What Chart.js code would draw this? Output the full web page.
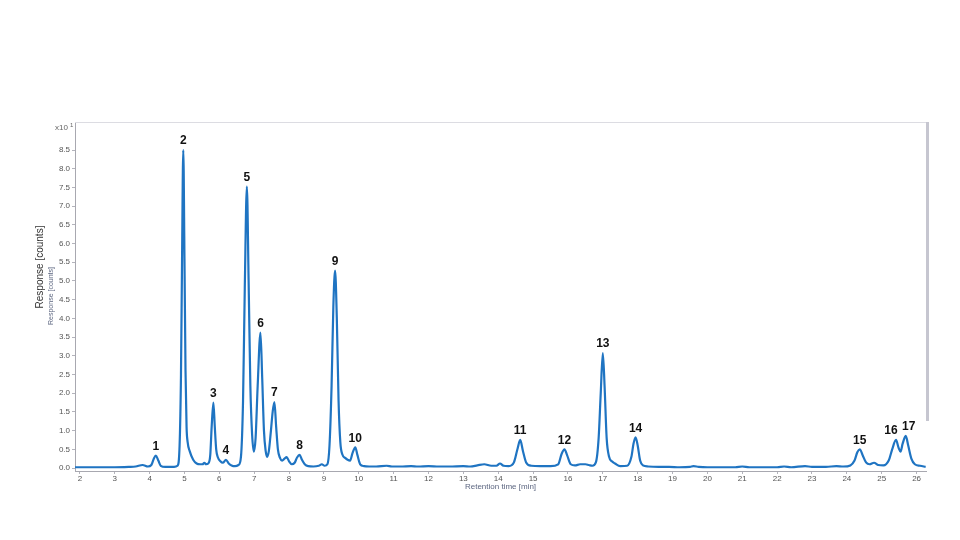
<!DOCTYPE html>
<html>
<head>
<meta charset="utf-8">
<title>Chromatogram</title>
<script src="https://cdn.jsdelivr.net/npm/chart.js@4/dist/chart.umd.min.js"></script>
<style>
  html, body { margin: 0; padding: 0; background: #fff; }
  canvas { display: block; }
</style>
</head>
<body>
<canvas id="chromChart" width="960" height="540"></canvas>
<script>
// trace (retention time in min, response in x10^1 counts)
const retentionTimes = [
  1.86, 2.5, 3.0, 3.4, 3.6, 3.8, 3.95, 4.05, 4.12, 4.18, 4.25, 4.32, 4.45, 4.6,
  4.70, 4.80, 4.86, 4.90, 4.93, 4.966, 5.00, 5.03, 5.06, 5.09, 5.15, 5.25, 5.35, 5.45,
  5.52, 5.57, 5.62, 5.68, 5.74, 5.78, 5.83, 5.87, 5.91, 5.96, 6.03, 6.10, 6.19, 6.27,
  6.35, 6.45, 6.55, 6.62, 6.68, 6.73, 6.79, 6.84, 6.89, 6.94, 6.99, 7.04, 7.10, 7.18,
  7.23, 7.28, 7.33, 7.37, 7.42, 7.48, 7.53, 7.58, 7.63, 7.68, 7.74, 7.80, 7.87, 7.93,
  8.00, 8.08, 8.16, 8.23, 8.30, 8.37, 8.45, 8.55, 8.70, 8.85, 8.94, 9.02, 9.10, 9.16,
  9.22, 9.27, 9.32, 9.37, 9.42, 9.47, 9.53, 9.61, 9.68, 9.75, 9.82, 9.90, 9.96, 10.04,
  10.15, 10.3, 10.5, 10.8, 10.95, 11.2, 11.5, 11.7, 12.0, 12.3, 12.6, 13.0, 13.2, 13.4,
  13.6, 13.8, 13.95, 14.05, 14.15, 14.3, 14.45, 14.55, 14.63, 14.71, 14.8, 14.95, 15.2,
  15.5, 15.72, 15.82, 15.9, 15.98, 16.08, 16.2, 16.35, 16.5, 16.6, 16.7, 16.8, 16.88,
  16.94, 17.0, 17.05, 17.11, 17.18, 17.26, 17.35, 17.5, 17.7, 17.82, 17.88, 17.94, 18.0,
  18.07, 18.15, 18.3, 18.6, 18.9, 19.2, 19.5, 19.6, 19.75, 20.0, 20.4, 20.8, 21.0, 21.2,
  21.6, 22.0, 22.2, 22.4, 22.8, 23.0, 23.4, 23.7, 23.9, 24.1, 24.22, 24.3, 24.37, 24.45,
  24.55, 24.65, 24.78, 24.9, 25.05, 25.2, 25.3, 25.41, 25.48, 25.54, 25.6, 25.69, 25.76,
  25.85, 25.95, 26.1, 26.26
];
const responses = [
  0.02, 0.02, 0.02, 0.03, 0.04, 0.08, 0.04, 0.08, 0.25, 0.33, 0.2, 0.06, 0.03, 0.03,
  0.03, 0.06, 0.6, 2.5, 5.5, 8.5, 5.6, 2.6, 1.1, 0.7, 0.45, 0.22, 0.12, 0.1,
  0.1, 0.14, 0.1, 0.12, 0.35, 1.1, 1.75, 1.1, 0.5, 0.28, 0.18, 0.14, 0.22, 0.12,
  0.07, 0.05, 0.08, 0.3, 1.8, 4.8, 7.52, 5.0, 2.2, 0.9, 0.44, 0.8, 2.2, 3.62,
  2.4, 1.0, 0.45, 0.3, 0.45, 1.0, 1.5, 1.76, 1.1, 0.5, 0.27, 0.2, 0.25, 0.29,
  0.18, 0.1, 0.14, 0.28, 0.35, 0.22, 0.1, 0.05, 0.04, 0.06, 0.1, 0.06, 0.1, 0.6,
  2.2, 4.3, 5.28, 4.0, 1.8, 0.7, 0.36, 0.27, 0.22, 0.2, 0.4, 0.55, 0.35, 0.1,
  0.05, 0.04, 0.04, 0.06, 0.04, 0.04, 0.05, 0.04, 0.05, 0.04, 0.04, 0.05, 0.04, 0.07,
  0.1, 0.06, 0.06, 0.12, 0.06, 0.05, 0.15, 0.5, 0.75, 0.45, 0.15, 0.06, 0.05,
  0.05, 0.1, 0.38, 0.5, 0.33, 0.1, 0.07, 0.1, 0.1, 0.08, 0.06, 0.15, 0.8,
  2.0, 3.07, 2.2, 0.8, 0.3, 0.18, 0.12, 0.05, 0.06, 0.3, 0.65, 0.82, 0.6,
  0.2, 0.07, 0.04, 0.03, 0.03, 0.02, 0.03, 0.05, 0.03, 0.02, 0.02, 0.02, 0.04, 0.02,
  0.02, 0.02, 0.04, 0.02, 0.05, 0.03, 0.03, 0.05, 0.04, 0.07, 0.2, 0.42, 0.5, 0.35,
  0.15, 0.1, 0.14, 0.08, 0.07, 0.2, 0.5, 0.75, 0.55, 0.44, 0.65, 0.86, 0.6,
  0.25, 0.1, 0.06, 0.03
];

// numbered peaks
const peakLabels = ["1", "2", "3", "4", "5", "6", "7", "8", "9", "10", "11", "12", "13", "14", "15", "16", "17"];
const peakTimes = [4.18, 4.966, 5.83, 6.19, 6.79, 7.18, 7.58, 8.30, 9.32, 9.90, 14.63, 15.9, 17.0, 17.94, 24.37, 25.41, 25.69];
const peakHeights = [0.33, 8.5, 1.75, 0.22, 7.52, 3.62, 1.76, 0.35, 5.28, 0.55, 0.75, 0.5, 3.07, 0.82, 0.5, 0.75, 0.86];

const xTicks = [2, 3, 4, 5, 6, 7, 8, 9, 10, 11, 12, 13, 14, 15, 16, 17, 18, 19, 20, 21, 22, 23, 24, 25, 26];
const yTicks = [0, 0.5, 1.0, 1.5, 2.0, 2.5, 3.0, 3.5, 4.0, 4.5, 5.0, 5.5, 6.0, 6.5, 7.0, 7.5, 8.0, 8.5];

const FONT = "'Liberation Sans', Arial, sans-serif";
const labelNudge = { "16": -5, "17": 3 };

const decorations = {
  id: "decorations",
  afterDraw(chart) {
    const { ctx, chartArea, scales } = chart;
    const x = scales.x, y = scales.y;
    ctx.save();

    // top border and right frame bar
    ctx.strokeStyle = "#dcdce2";
    ctx.lineWidth = 1;
    ctx.beginPath();
    ctx.moveTo(chartArea.left, chartArea.top + 0.5);
    ctx.lineTo(chartArea.right + 3, chartArea.top + 0.5);
    ctx.stroke();
    ctx.strokeStyle = "#c6c6d0";
    ctx.lineWidth = 3;
    ctx.beginPath();
    ctx.moveTo(chartArea.right + 1.5, chartArea.top);
    ctx.lineTo(chartArea.right + 1.5, 421);
    ctx.stroke();

    // peak numbers
    ctx.fillStyle = "#111";
    ctx.font = "bold 12px " + FONT;
    ctx.textAlign = "center";
    ctx.textBaseline = "bottom";
    peakLabels.forEach((lbl, i) => {
      const px = x.getPixelForValue(peakTimes[i]) + (labelNudge[lbl] || 0);
      const py = y.getPixelForValue(peakHeights[i]) - 3;
      ctx.fillText(lbl, px, py);
    });

    // exponent marker
    ctx.fillStyle = "#666";
    ctx.font = "8px " + FONT;
    ctx.textAlign = "right";
    ctx.textBaseline = "middle";
    ctx.fillText("x10", 68, chartArea.top + 6);
    ctx.font = "6px " + FONT;
    ctx.textAlign = "left";
    ctx.fillText("1", 70, chartArea.top + 3);

    // axis titles
    ctx.textAlign = "center";
    ctx.fillStyle = "#5c6680";
    ctx.font = "8px " + FONT;
    ctx.fillText("Retention time [min]", (chartArea.left + chartArea.right) / 2, 487);

    ctx.save();
    ctx.translate(40, 267);
    ctx.rotate(-Math.PI / 2);
    ctx.fillStyle = "#333";
    ctx.font = "10px " + FONT;
    ctx.fillText("Response [counts]", 0, 0);
    ctx.restore();

    ctx.save();
    ctx.translate(51, 296);
    ctx.rotate(-Math.PI / 2);
    ctx.fillStyle = "#5c6680";
    ctx.font = "7px " + FONT;
    ctx.fillText("Response [counts]", 0, 0);
    ctx.restore();

    ctx.restore();
  }
};

const ctx = document.getElementById("chromChart");

new Chart(ctx, {
  type: "line",
  data: {
    datasets: [{
      label: "Response",
      data: retentionTimes.map((t, i) => ({ x: t, y: responses[i] })),
      borderColor: "#1f74c2",
      borderWidth: 2.2,
      pointRadius: 0,
      tension: 0.4,
      cubicInterpolationMode: "monotone",
      fill: false
    }]
  },
  options: {
    responsive: false,
    animation: false,
    layout: { padding: { left: 0, top: 122, right: 34, bottom: 0 } },
    plugins: {
      legend: { display: false },
      tooltip: { enabled: false }
    },
    scales: {
      x: {
        type: "linear",
        min: 1.86,
        max: 26.27,
        afterBuildTicks: (scale) => { scale.ticks = xTicks.map(v => ({ value: v })); },
        afterFit: (scale) => { scale.height = 69; },
        grid: { drawOnChartArea: false, drawTicks: true, tickLength: 3, color: "#b4b4bc" },
        border: { color: "#a8a8b0", width: 1 },
        ticks: {
          color: "#555",
          padding: 0,
          maxRotation: 0,
          autoSkip: false,
          font: { family: FONT, size: 8 },
          callback: (v) => String(v)
        }
      },
      y: {
        type: "linear",
        min: -0.08,
        max: 9.25,
        afterBuildTicks: (scale) => { scale.ticks = yTicks.map(v => ({ value: v })); },
        afterFit: (scale) => { scale.width = 75; },
        grid: { drawOnChartArea: false, drawTicks: true, tickLength: 3, color: "#b4b4bc" },
        border: { color: "#a8a8b0", width: 1 },
        ticks: {
          color: "#555",
          padding: 2,
          autoSkip: false,
          font: { family: FONT, size: 8 },
          callback: (v) => v.toFixed(1)
        }
      }
    }
  },
  plugins: [decorations]
});
</script>
</body>
</html>
